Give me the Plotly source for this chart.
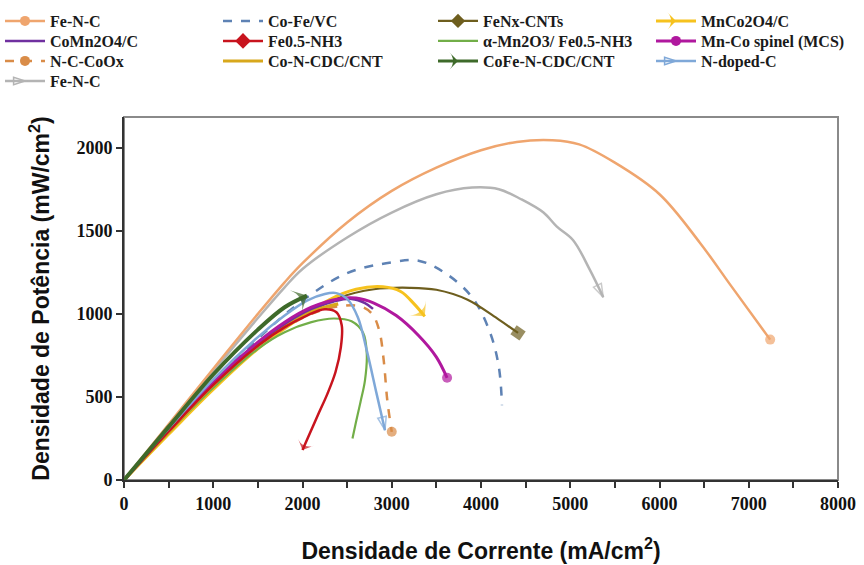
import plotly.graph_objects as go

# ---- data ----
names = ["Fe-N-C", "Co-Fe/VC", "FeNx-CNTs", "MnCo2O4/C",
         "CoMn2O4/C", "Fe0.5-NH3", "α-Mn2O3/ Fe0.5-NH3", "Mn-Co spinel (MCS)",
         "N-C-CoOx", "Co-N-CDC/CNT", "CoFe-N-CDC/CNT", "N-doped-C",
         "Fe-N-C "]

fenc_x = [0, 500, 1000, 1500, 1800, 2000, 2500, 3000, 3500, 4000, 4400, 4800, 5100, 5500, 6000, 6450, 6800, 7240]
fenc_y = [0, 335, 670, 1000, 1190, 1305, 1550, 1740, 1880, 1985, 2035, 2045, 2020, 1910, 1720, 1430, 1170, 845]

cofe_x = [0, 500, 1000, 1500, 2000, 2500, 3000, 3300, 3600, 3900, 4100, 4200, 4235]
cofe_y = [0, 300, 585, 850, 1080, 1245, 1310, 1320, 1245, 1100, 890, 680, 450]

fenx_x = [0, 500, 1000, 1500, 2000, 2400, 2800, 3200, 3500, 3850, 4200, 4415]
fenx_y = [0, 285, 560, 800, 985, 1095, 1148, 1157, 1145, 1085, 965, 885]

mnco_x = [0, 500, 1000, 1500, 2000, 2300, 2600, 2900, 3100, 3250, 3370]
mnco_y = [0, 275, 545, 790, 985, 1085, 1148, 1163, 1135, 1060, 985]

comn_x = [0, 500, 1000, 1500, 1800, 2100, 2350, 2550, 2700, 2790]
comn_y = [0, 300, 585, 825, 940, 1030, 1075, 1090, 1065, 1030]

fe05_x = [0, 500, 1000, 1500, 1800, 2050, 2250, 2380, 2440, 2430, 2370, 2280, 2180, 2090, 2000]
fe05_y = [0, 292, 572, 808, 920, 990, 1028, 1010, 930, 800, 650, 520, 400, 290, 180]

amn_x = [0, 500, 1000, 1500, 1800, 2100, 2350, 2550, 2680, 2720, 2700, 2650, 2600, 2560]
amn_y = [0, 285, 555, 790, 890, 950, 972, 955, 885, 760, 600, 470, 350, 250]

mcs_x = [0, 500, 1000, 1500, 1800, 2100, 2400, 2600, 2800, 3050, 3300, 3500, 3620]
mcs_y = [0, 300, 590, 830, 950, 1040, 1090, 1095, 1065, 990, 870, 740, 615]

ncco_x = [0, 500, 1000, 1500, 1800, 2100, 2400, 2650, 2780, 2860, 2910, 2950, 3000]
ncco_y = [0, 290, 570, 805, 915, 1000, 1045, 1045, 1000, 900, 720, 480, 290]

concdc_x = [0, 500, 1000, 1500, 1800, 2100, 2400]
concdc_y = [0, 290, 575, 815, 930, 1015, 1060]

cofencdc_x = [0, 500, 1000, 1500, 1800, 2050]
cofencdc_y = [0, 320, 635, 905, 1040, 1110]

ndc_x = [0, 500, 1000, 1500, 1800, 2050, 2250, 2380, 2500, 2620, 2720, 2830, 2924]
ndc_y = [0, 310, 605, 860, 990, 1080, 1120, 1125, 1090, 980, 780, 520, 300]

fenc2_x = [0, 500, 1000, 1500, 1800, 2000, 2500, 3000, 3500, 3900, 4200, 4450, 4700, 4850, 5030, 5220, 5370]
fenc2_y = [0, 330, 655, 975, 1160, 1270, 1460, 1610, 1720, 1760, 1750, 1690, 1610, 1525, 1445, 1265, 1100]

x_ticks = [0, 1000, 2000, 3000, 4000, 5000, 6000, 7000, 8000]
y_ticks = [0, 500, 1000, 1500, 2000]

# ---- styles ----
series = [
    # name, x, y, color, width, dash, end symbol, legend symbol, end size
    (names[0], fenc_x, fenc_y, "#EFA56E", 2.5, "solid", "circle", "circle", 10),
    (names[1], cofe_x, cofe_y, "#5E82B4", 2.5, "dash", None, None, 0),
    (names[2], fenx_x, fenx_y, "#6E5E1E", 2.2, "solid", "square", "diamond", 11),
    (names[3], mnco_x, mnco_y, "#F6C21E", 3, "solid", "arrow-wide", "arrow-wide", 16),
    (names[4], comn_x, comn_y, "#7030A0", 2.5, "solid", None, None, 0),
    (names[5], fe05_x, fe05_y, "#C8141E", 2.5, "solid", "arrow-wide", "diamond", 12),
    (names[6], amn_x, amn_y, "#72AE48", 2.2, "solid", None, None, 0),
    (names[7], mcs_x, mcs_y, "#B0189E", 3, "solid", "circle", "circle", 10),
    (names[8], ncco_x, ncco_y, "#D98C48", 2.5, "dash", "circle", "circle", 10),
    (names[9], concdc_x, concdc_y, "#D8A81C", 3.5, "solid", None, None, 0),
    (names[10], cofencdc_x, cofencdc_y, "#3E6A2A", 4, "solid", "arrow-wide", "arrow-wide", 18),
    (names[11], ndc_x, ndc_y, "#7FA8D8", 2.5, "solid", "arrow-open", "arrow-open", 14),
    (names[12], fenc2_x, fenc2_y, "#B4B4B4", 2.5, "solid", "arrow-open", "arrow-open", 14),
]

fig = go.Figure()

draw_order = [12, 0, 1, 2, 3, 6, 8, 9, 4, 7, 5, 11, 10]
for i in draw_order:
    name, xs, ys, color, width, dash, end_sym, leg_sym, end_size = series[i]
    n = len(xs)
    if end_sym:
        marker = dict(
            symbol=["circle"] * (n - 1) + [end_sym],
            size=[0] * (n - 1) + [end_size],
            color=color,
            angleref="previous",
            line=dict(width=1.5 if "open" in end_sym else 0, color=color),
        )
        mode = "lines+markers"
    else:
        marker = None
        mode = "lines"
    fig.add_trace(go.Scatter(
        x=xs, y=ys, mode=mode, name=name, showlegend=False,
        line=dict(color=color, width=width, dash=dash, shape="spline", smoothing=1.0),
        marker=marker, hoverinfo="skip",
    ))

# legend entries: rows of 4 columns, each half-row is its own legend box
H = 565
W = 864
row_px = [21, 41, 61, 81, 101]
half_x_px = [0, 433]
legend_font = dict(family="Liberation Serif", size=16, color="#1a1a1a", weight="bold")
layout_legends = {}
for i, s in enumerate(series):
    name, xs, ys, color, width, dash, end_sym, leg_sym, end_size = s
    row, col = divmod(i, 4)
    half = col // 2
    idx = row * 2 + half
    lid = "legend" if idx == 0 else f"legend{idx + 1}"
    if lid not in layout_legends:
        layout_legends[lid] = dict(
            orientation="h", xref="container", yref="container",
            x=half_x_px[half] / W, y=1 - row_px[row] / H,
            xanchor="left", yanchor="middle",
            entrywidth=163, itemwidth=40, font=legend_font,
            bgcolor="rgba(0,0,0,0)", traceorder="normal",
        )
    if leg_sym:
        mk = dict(symbol=leg_sym, size=min(end_size, 12), color=color,
                  angle=90 if "arrow" in leg_sym else 0,
                  line=dict(width=1.5 if "open" in leg_sym else 0, color=color))
        mode = "lines+markers"
    else:
        mk = None
        mode = "lines"
    fig.add_trace(go.Scatter(
        x=[None], y=[None], mode=mode, name=name, legend=lid,
        line=dict(color=color, width=min(width, 3), dash=dash),
        marker=mk,
    ))

fig.add_shape(type="rect", xref="paper", yref="paper", x0=0, y0=0, x1=1, y1=1,
              line=dict(color="#8A8A8A", width=2), layer="below")

tick_font = dict(family="Liberation Serif", size=18, color="#111111", weight="bold")
title_font = dict(family="Liberation Sans", size=23, color="#111111", weight="bold")

fig.update_layout(
    width=W, height=H,
    margin=dict(l=124, r=26, t=117, b=85, autoexpand=False),
    paper_bgcolor="white", plot_bgcolor="white",
    font=dict(family="Liberation Serif"),
    xaxis=dict(
        range=[0, 8000], tickvals=x_ticks, ticktext=[str(v) for v in x_ticks],
        ticks="outside", ticklen=6, tickwidth=1.5, tickcolor="#333",
        minor=dict(dtick=500, ticks="outside", ticklen=6, tickwidth=1.5, tickcolor="#333"),
        showline=True, linecolor="#333", linewidth=2,
        showgrid=False, zeroline=False, tickfont=tick_font,
        title=dict(text="Densidade de Corrente (mA/cm<sup>2</sup>)", font=title_font, standoff=30),
    ),
    yaxis=dict(
        range=[0, 2185], tickvals=y_ticks, ticktext=[str(v) for v in y_ticks],
        ticks="outside", ticklen=6, tickwidth=1.5, tickcolor="#333",
        showline=True, linecolor="#333", linewidth=2,
        showgrid=False, zeroline=False, tickfont=tick_font,
        title=dict(text="Densidade de Potência (mW/cm<sup>2</sup>)", font=title_font, standoff=20),
    ),
    **layout_legends,
)

fig.write_html("out.html")
